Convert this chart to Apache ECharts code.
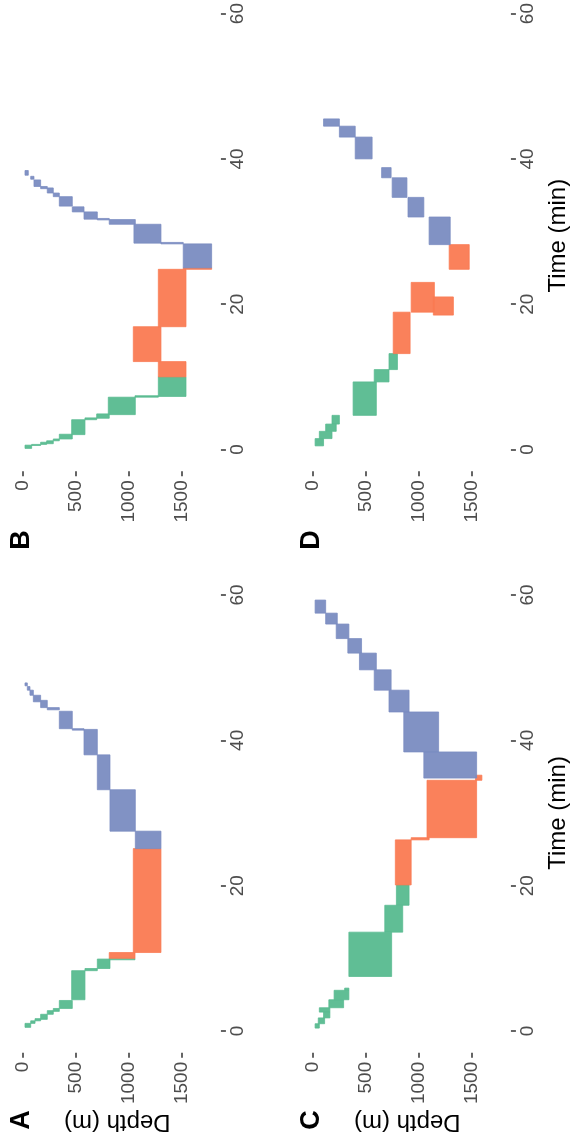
<!DOCTYPE html>
<html><head><meta charset="utf-8">
<script src="https://cdn.jsdelivr.net/npm/echarts@6/dist/echarts.min.js"></script>
<style>html,body{margin:0;padding:0;background:#fff}#c{width:571px;height:1145px}</style>
</head><body><div id="c"></div>
<script>
// phase index: 0 = descent, 1 = bottom, 2 = ascent
const phaseNames = ['descent', 'bottom', 'ascent'];
const phaseColors = ['#57BA8F', '#FA7A52', '#7A8CC1'];
const panelLetters = ['A', 'B', 'C', 'D'];
const timeTicks = [0, 20, 40, 60];
const depthTicks = [0, 500, 1000, 1500];
const depthTitle = 'Depth (m)';
const timeTitle = 'Time (min)';

// rows: [timeStart (min), timeEnd (min), depthTop (m), depthBottom (m), phase]
const diveA = [
  [0.5,1.05,19,73,0],[1.05,1.4,73,114,0],[1.4,1.7,114,167,0],[1.6,2.3,167,230,0],
  [2.3,2.8,230,287,0],[2.7,3.1,287,344,0],[3.1,4.2,344,467,0],[4.3,8.3,461,587,0],
  [8.3,8.6,587,704,0],[8.6,9.9,704,824,0],[9.8,10.0,817,1061,0],
  [10.0,10.8,817,1061,1],[10.8,25.1,1045,1307,1],
  [25.1,27.5,1064,1307,2],[27.5,33.2,824,1064,2],[33.2,38.0,704,824,2],[38.0,41.5,578,704,2],
  [41.4,41.6,467,578,2],[41.6,44.0,344,467,2],[44.2,44.5,230,344,2],[44.5,45.5,167,230,2],
  [45.3,46.2,98,167,2],[46.2,46.9,66,98,2],[46.9,47.4,41,66,2],[47.5,47.9,19,41,2]
];
const diveB = [
  [0.15,0.6,19,82,0],[0.55,0.7,82,167,0],[0.7,1.0,167,224,0],[0.8,1.2,224,287,0],
  [1.2,1.45,287,344,0],[1.45,2.1,344,467,0],[2.05,4.1,461,587,0],[4.1,4.35,587,698,0],
  [4.3,4.9,698,817,0],[4.8,7.2,808,1064,0],[7.2,7.4,1061,1282,0],[7.3,10.0,1282,1544,0],
  [10.0,12.1,1282,1544,1],[12.1,16.9,1045,1307,1],[16.9,24.8,1282,1544,1],[24.8,25.0,1518,1787,1],
  [25.0,28.3,1518,1787,2],[28.3,28.5,1307,1518,2],[28.4,31.0,1051,1307,2],[31.0,31.65,817,1064,2],
  [31.6,31.8,704,817,2],[31.7,32.7,578,704,2],[32.7,33.4,467,578,2],[33.5,34.8,344,467,2],
  [34.8,35.3,287,344,2],[35.3,36.0,230,287,2],[35.9,36.2,167,230,2],[36.2,37.1,104,167,2],
  [37.2,37.6,73,104,2],[37.75,38.4,19,50,2]
];
const diveC = [
  [0.4,1.0,20,60,0],[1.0,1.8,50,110,0],[1.8,2.6,100,160,0],[2.6,3.2,60,160,0],[3.2,4.3,150,290,0],
  [4.3,5.6,200,340,0],[5.6,5.9,300,340,0],[7.5,13.6,340,745,0],[13.6,17.3,680,850,0],[17.3,20.1,790,910,0],
  [20.1,26.3,780,930,1],[26.3,26.6,930,1100,1],[26.6,34.5,1080,1550,1],[34.5,35.2,1540,1600,1],
  [34.8,38.4,1050,1550,2],[38.4,43.9,860,1190,2],[43.9,46.9,720,910,2],[46.9,49.7,580,740,2],
  [49.7,52.0,440,600,2],[52.0,54.0,330,460,2],[54.0,56.0,220,340,2],[56.0,57.5,120,230,2],
  [57.5,59.3,20,120,2]
];
const diveD = [
  [0.5,1.5,20,100,0],[1.5,2.5,60,180,0],[2.5,3.5,120,220,0],[3.5,4.7,180,250,0],
  [4.7,9.3,380,600,0],[9.3,11.0,580,720,0],[11.0,13.2,720,800,0],
  [13.2,18.9,760,920,1],[18.9,23.0,930,1150,1],[18.5,21.0,1140,1330,1],[24.8,28.2,1290,1480,1],
  [28.2,32.0,1100,1300,2],[32.0,34.7,900,1050,2],[34.7,37.4,750,890,2],[37.4,38.8,650,740,2],
  [40.0,43.0,400,560,2],[43.0,44.5,250,400,2],[44.5,45.5,100,250,2]
];
const dives = [diveA, diveB, diveC, diveD];

// panel extents in data units (ggplot-style padded panels)
const depthRange = [-89, 1875];
const timeRangeLower = [-3, 63];     // panels A, C
const timeRangeUpper = [-3, 61.85];  // panels B, D (cropped at page top)

const font = 'Liberation Sans, Arial, Helvetica, sans-serif';
const pxPerM = 0.10556, pxPerMin = 7.267;
// anchor pixel of depth 0 (x) and time 0 (y) for each panel
const anchors = [[23, 1031], [23, 449.5], [313, 1031], [313, 449.5]];
const letterPos = [[22, 1120], [22, 540], [312, 1120], [312, 540]];

const chart = echarts.init(document.getElementById('c'), null, {renderer: 'canvas'});
const grids = [], xAxes = [], yAxes = [], series = [], graphics = [];
anchors.forEach((a, i) => {
  const tr = (i === 1 || i === 3) ? timeRangeUpper : timeRangeLower;
  grids.push({
    left: a[0] + depthRange[0] * pxPerM, width: (depthRange[1] - depthRange[0]) * pxPerM,
    top: a[1] - tr[1] * pxPerMin, height: (tr[1] - tr[0]) * pxPerMin, containLabel: false
  });
  const depthName = (i === 0 || i === 2) ? depthTitle : '';
  const timeName = (i === 2 || i === 3) ? timeTitle : '';
  xAxes.push({
    gridIndex: i, type: 'value', min: depthRange[0], max: depthRange[1], position: 'bottom',
    axisLine: {show: false, onZero: false}, splitLine: {show: false},
    axisTick: {show: true, length: 5, customValues: depthTicks, lineStyle: {color: '#333333', width: 1.5}},
    axisLabel: {rotate: 90, customValues: depthTicks, color: '#4D4D4D', fontSize: 19, margin: 9,
      fontFamily: font, formatter: v => String(v)},
    name: depthName, nameLocation: 'middle', nameRotate: 180, nameGap: 57,
    nameTextStyle: {color: '#000', fontSize: 24, fontFamily: font}
  });
  yAxes.push({
    gridIndex: i, type: 'value', min: tr[0], max: tr[1], position: 'right',
    axisLine: {show: false, onZero: false}, splitLine: {show: false},
    axisTick: {show: true, length: 5, customValues: timeTicks, lineStyle: {color: '#333333', width: 1.5}},
    axisLabel: {rotate: 90, customValues: timeTicks, color: '#4D4D4D', fontSize: 19, margin: 7,
      fontFamily: font, formatter: v => String(v)},
    name: timeName, nameLocation: 'middle', nameRotate: 90, nameGap: 35,
    nameTextStyle: {color: '#000', fontSize: 24, fontFamily: font}
  });
  series.push({
    type: 'custom', xAxisIndex: i, yAxisIndex: i, clip: false,
    data: dives[i],
    renderItem: function (params, api) {
      const t0 = api.value(0), t1 = api.value(1), d0 = api.value(2), d1 = api.value(3);
      const ph = api.value(4);
      const p0 = api.coord([d0, t0]);
      const p1 = api.coord([d1, t1]);
      const x = Math.min(p0[0], p1[0]), y = Math.min(p0[1], p1[1]);
      const c = phaseColors[ph];
      return {
        type: 'rect',
        shape: {x: x, y: y, width: Math.max(Math.abs(p1[0] - p0[0]), 0.8), height: Math.max(Math.abs(p1[1] - p0[1]), 0.8)},
        style: {fill: c, stroke: c, lineWidth: 0.8, opacity: 0.95}
      };
    },
    encode: {x: [2, 3], y: [0, 1]}
  });
  graphics.push({
    type: 'text', x: letterPos[i][0], y: letterPos[i][1], rotation: Math.PI / 2,
    style: {text: panelLetters[i], font: 'bold 27px ' + font, fill: '#000', align: 'center', verticalAlign: 'middle'}
  });
});

chart.setOption({
  backgroundColor: '#fff',
  animation: false,
  grid: grids, xAxis: xAxes, yAxis: yAxes, series: series, graphic: graphics
});
</script></body></html>
